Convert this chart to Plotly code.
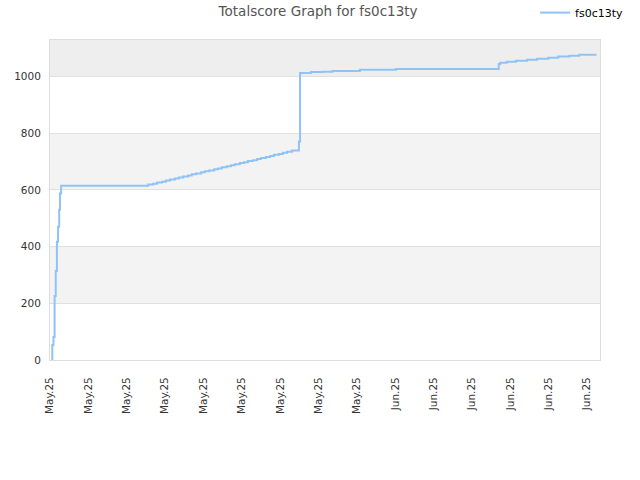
import plotly.graph_objects as go

# x positions (tick units) and total score values
x_vals = [0.05, 0.06, 0.09, 0.12, 0.15, 0.18, 0.21, 0.24, 0.26, 0.29,
          2.56, 2.69, 2.79, 2.92, 3.02, 3.13, 3.26, 3.36, 3.47, 3.60,
          3.70, 3.81, 3.94, 4.04, 4.15, 4.28, 4.38, 4.48, 4.61, 4.72,
          4.82, 4.95, 5.06, 5.16, 5.29, 5.40, 5.50, 5.63, 5.74, 5.84,
          5.97, 6.07, 6.18, 6.31, 6.41, 6.49, 6.52, 6.80, 7.10, 7.36,
          8.08, 9.02, 11.67, 11.70, 11.74, 11.91, 12.15, 12.44, 12.70, 12.99,
          13.25, 13.54, 13.80, 14.25]
scores = [0, 53, 81, 226, 314, 417, 470, 530, 587, 615,
          619, 622, 626, 629, 633, 637, 640, 644, 647, 651,
          655, 658, 662, 666, 669, 673, 676, 680, 684, 687,
          691, 695, 698, 702, 705, 709, 713, 716, 720, 724,
          727, 731, 735, 739, 739, 771, 1013, 1016, 1017, 1020,
          1024, 1027, 1027, 1044, 1049, 1052, 1056, 1059, 1063, 1066,
          1071, 1073, 1077, 1077]

tick_labels = ["May.25"] * 9 + ["Jun.25"] * 6
tick_positions = list(range(len(tick_labels)))
y_ticks = [0, 200, 400, 600, 800, 1000]

fig = go.Figure()
fig.add_trace(go.Scatter(x=x_vals, y=scores, mode="lines", name="fs0c13ty",
                         line=dict(color="#90c3f5", width=2, shape="hv")))

bands = [(200, 400, "#f3f3f3"), (600, 800, "#f3f3f3"), (1000, 1129, "#eeeeee")]
for y0, y1, c in bands:
    fig.add_shape(type="rect", xref="paper", yref="y", x0=0, x1=1, y0=y0, y1=y1,
                  fillcolor=c, line_width=0, layer="below")

fig.update_layout(
    width=640, height=480,
    margin=dict(l=50, r=40, t=40, b=120, autoexpand=False),
    paper_bgcolor="white", plot_bgcolor="white",
    font=dict(family="DejaVu Sans", size=10.5, color="#333"),
    title=dict(text="Totalscore Graph for fs0c13ty", x=0.497, xanchor="center",
               xref="container", yref="container", y=0.976, yanchor="middle",
               font=dict(size=13.5, color="#555")),
    showlegend=True,
    legend=dict(x=0.882, xanchor="left", y=1.131, yanchor="top",
                font=dict(size=11, color="#000"), bgcolor="rgba(0,0,0,0)"),
    xaxis=dict(range=[0, 14.34], tickvals=tick_positions, ticktext=tick_labels,
               tickangle=-90, showgrid=False, zeroline=False, automargin=False,
               showline=True, linecolor="#dddddd", mirror=True, ticklabelstandoff=12,
               tickfont=dict(size=10.5, color="#333")),
    yaxis=dict(range=[0, 1129], tickvals=y_ticks, showgrid=True, gridcolor="#e0e0e0",
               zeroline=False, showline=True, linecolor="#dddddd", mirror=True,
               automargin=False, ticklabelstandoff=6,
               tickfont=dict(size=10.5, color="#333")),
)

fig.write_html("out.html", config={"displayModeBar": False},
               post_script="document.body.style.margin='0';")
